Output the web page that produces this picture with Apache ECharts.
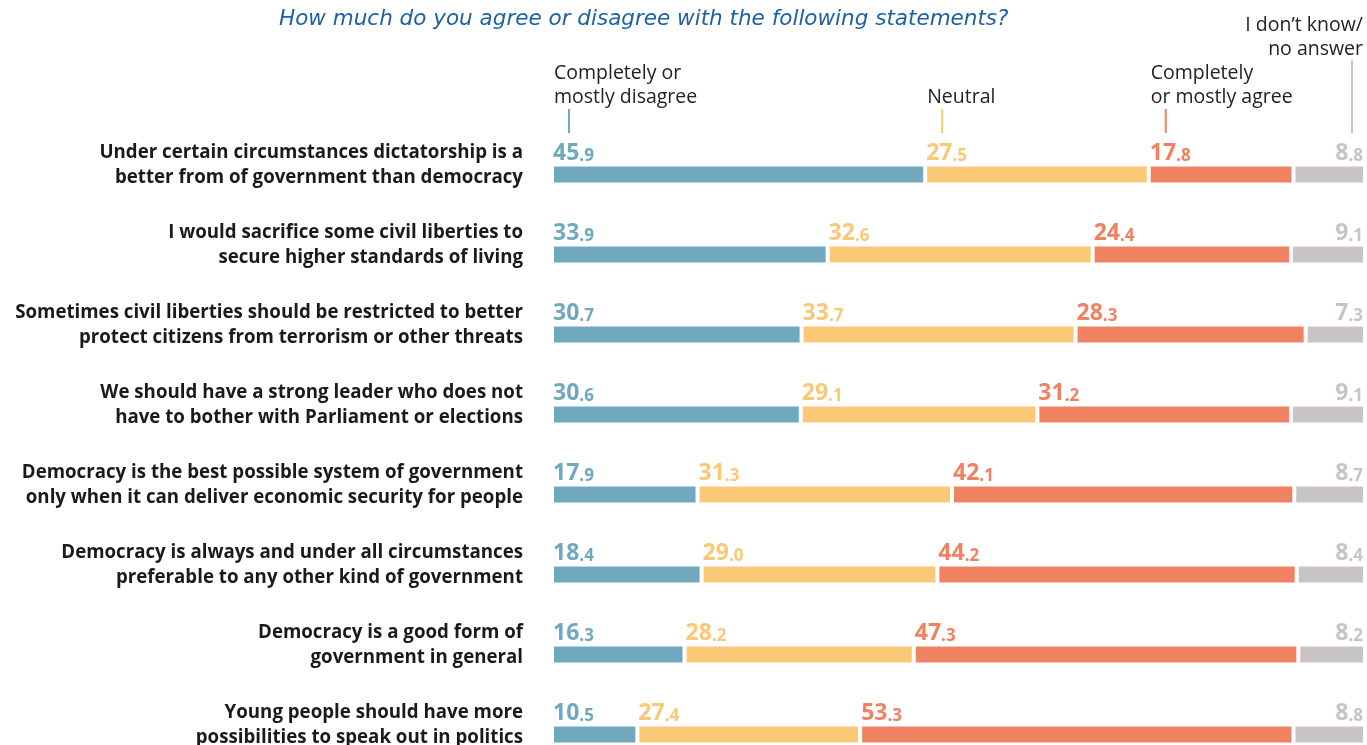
<!DOCTYPE html>
<html>
<head>
<meta charset="utf-8">
<script src="https://cdn.jsdelivr.net/npm/echarts@6/dist/echarts.min.js"></script>
<style>
  html, body { margin: 0; padding: 0; background: #fff; }
  #chart { width: 1367px; height: 745px; }
</style>
</head>
<body>
<div id="chart"></div>
<script>
// statements (top to bottom)
var categories = [
  'Under certain circumstances dictatorship is a\nbetter from of government than democracy',
  'I would sacrifice some civil liberties to\nsecure higher standards of living',
  'Sometimes civil liberties should be restricted to better\nprotect citizens from terrorism or other threats',
  'We should have a strong leader who does not\nhave to bother with Parliament or elections',
  'Democracy is the best possible system of government\nonly when it can deliver economic security for people',
  'Democracy is always and under all circumstances\npreferable to any other kind of government',
  'Democracy is a good form of\ngovernment in general',
  'Young people should have more\npossibilities to speak out in politics'
]
var disagree = [45.9, 33.9, 30.7, 30.6, 17.9, 18.4, 16.3, 10.5]
var neutral = [27.5, 32.6, 33.7, 29.1, 31.3, 29.0, 28.2, 27.4]
var agree = [17.8, 24.4, 28.3, 31.2, 42.1, 44.2, 47.3, 53.3]
var dontKnow = [8.8, 9.1, 7.3, 9.1, 8.7, 8.4, 8.2, 8.8]
var seriesNames = ['Completely or\nmostly disagree', 'Neutral', 'Completely\nor mostly agree', 'I don\u2019t know/\nno answer']
var colors = ['#6fa8bf', '#fbc878', '#f08262', '#c8c4c3']

var chart = echarts.init(document.getElementById('chart'))

// value label: big integer part, small decimals
function makeLabel (color, right) {
  return {
    show: true,
    position: right ? ['100%', 0] : [0, 0],
    offset: right ? [-2, 0] : [1, 0],
    align: right ? 'right' : 'left',
    verticalAlign: 'bottom',
    formatter: function (p) {
      var s = p.value.toFixed(1).split('.')
      return '{a|' + s[0] + '}{b|.' + s[1] + '}'
    },
    rich: {
      a: { fontFamily: 'Open Sans', fontWeight: 700, fontSize: 23, lineHeight: 23, color: color, verticalAlign: 'bottom' },
      b: { fontFamily: 'Open Sans', fontWeight: 700, fontSize: 17, lineHeight: 21, color: color, verticalAlign: 'bottom' }
    }
  }
}

var allData = [disagree, neutral, agree, dontKnow]
var series = allData.map(function (d, i) {
  return {
    name: seriesNames[i],
    type: 'bar',
    stack: 'all',
    barWidth: 20,
    data: d,
    itemStyle: { color: colors[i], borderColor: '#fff', borderWidth: 2 },
    label: makeLabel(colors[i], i === 3),
    silent: true
  }
})

chart.setOption({
  animation: false,
  title: {
    text: 'How much do you agree or disagree with the following statements?',
    left: 274,
    top: 3,
    textStyle: { fontFamily: 'DejaVu Sans', fontStyle: 'italic', fontWeight: 'normal', fontSize: 21.5, color: '#1f60a3' }
  },
  grid: { left: 552, right: 2, top: 174.5, bottom: 10.5, outerBoundsMode: 'none' },
  xAxis: { type: 'value', min: 0, max: 100, show: false },
  yAxis: {
    type: 'category',
    data: categories,
    inverse: true,
    boundaryGap: false,
    axisLine: { show: false },
    axisTick: { show: false },
    axisLabel: {
      margin: 29,
      align: 'right',
      lineHeight: 24.5,
      // empty third line pulls the two text lines up over the bar
      formatter: function (v) { return v + '\n{s| }' },
      rich: { s: { lineHeight: 18.5, fontSize: 10 } },
      fontFamily: 'Open Sans',
      fontWeight: 700,
      fontSize: 18.7,
      color: '#1a1a1a'
    }
  },
  series: series
})

// column headers placed over the first row's segment starts
var starts = [0, disagree[0], disagree[0] + neutral[0], disagree[0] + neutral[0] + agree[0]]
var px = starts.map(function (v) { return chart.convertToPixel({ gridIndex: 0 }, [v, 0])[0] + 2 })
var endPx = chart.convertToPixel({ gridIndex: 0 }, [100, 0])[0] - 2
var headFont = '19.5px "Open Sans"'
function head (text, x, y, align) {
  return { type: 'text', x: x, y: y, style: { text: text, font: headFont, fill: '#222', align: align, verticalAlign: 'top', lineHeight: 24.5 } }
}
function tick (x, y1, color) {
  return { type: 'line', shape: { x1: x, y1: y1, x2: x, y2: 133 }, style: { stroke: color, lineWidth: 2 } }
}
chart.setOption({
  graphic: [
    head(seriesNames[0], px[0], 61, 'left'),
    head(seriesNames[1], px[1], 85.5, 'left'),
    head(seriesNames[2], px[2], 61, 'left'),
    head(seriesNames[3], endPx, 13, 'right'),
    tick(px[0] + 15, 109, colors[0]),
    tick(px[1] + 15, 109, colors[1]),
    tick(px[2] + 15, 109, colors[2]),
    tick(endPx - 11, 60, colors[3])
  ]
})
</script>
</body>
</html>
